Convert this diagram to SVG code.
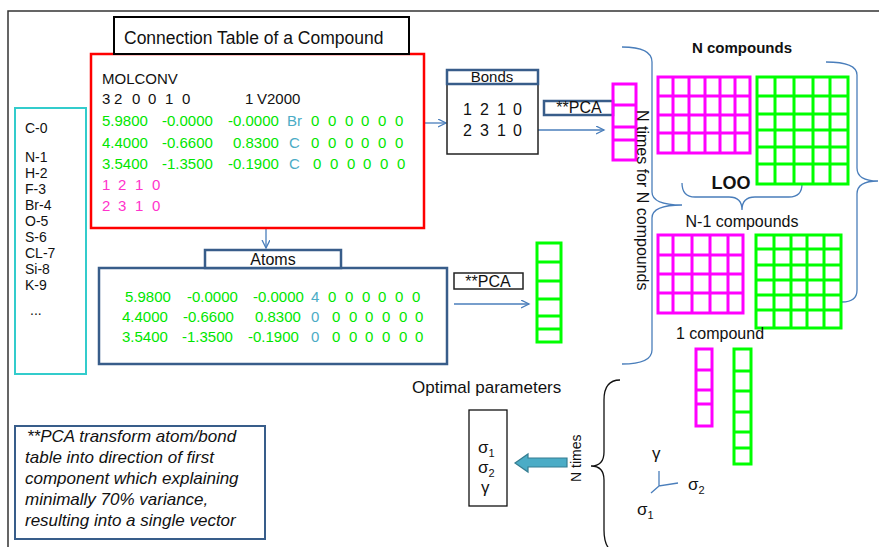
<svg xmlns="http://www.w3.org/2000/svg" width="879" height="547" viewBox="0 0 879 547">
<style>
text{font-family:"Liberation Sans",Arial,sans-serif;}
.f15{font-size:15px}
.f16{font-size:16px}
.gr{fill:#00e600}
.mg{fill:#ff33cc}
.cy{fill:#4bacc6}
.k{fill:#111}
.gm{fill:none;stroke:#ff00ff;stroke-width:3}
.gg{fill:none;stroke:#00ff00;stroke-width:3}
.db{fill:#fff;stroke:#385d8a;stroke-width:2.5}
.arr{fill:none;stroke:#4a7ebb;stroke-width:1.3}
.br{fill:none;stroke:#4a7ebb;stroke-width:1.3}
</style>
<defs>
<marker id="ah" markerWidth="10" markerHeight="10" refX="8" refY="4" orient="auto" markerUnits="userSpaceOnUse">
<path d="M0,0 L8,4 L0,8" fill="none" stroke="#4a7ebb" stroke-width="1.3"/>
</marker>
</defs>
<rect width="879" height="547" fill="#fff"/>
<path d="M8,547 L8,11 L879,11" fill="none" stroke="#333" stroke-width="1.5"/>

<g id="connectors">
<line class="arr" x1="424" y1="123" x2="446" y2="123" marker-end="url(#ah)"/>
<line class="arr" x1="538" y1="130" x2="604" y2="130" marker-end="url(#ah)"/>
<line class="arr" x1="266" y1="228" x2="266" y2="248" marker-end="url(#ah)"/>
<line class="arr" x1="454" y1="304" x2="529" y2="304" marker-end="url(#ah)"/>
<path class="br" d="M622,47 Q652,47 652,62 L652,192 Q652,205 682,205 Q652,205 652,218 L652,350 Q652,364 622,364"/>
<path class="br" d="M682,183 Q682,197 695,197 L729,197 Q742,197 742,210 Q742,197 755,197 L789,197 Q802,197 802,184"/>
<path class="br" d="M826,62 Q857,62 857,75 L857,168 Q857,181 878,181 Q857,181 857,194 L857,290 Q857,302 842,302"/>
<path d="M620,380 Q604,380 604,400 L604,452 Q604,466 591,466 Q604,466 604,480 L604,530 Q604,547 613,552" fill="none" stroke="#111" stroke-width="1.3"/>
<path d="M567,458 L528,458 L528,454 L515,463 L528,472 L528,467 L567,467 Z" fill="#4bacc6" stroke="#357d91" stroke-width="1.2"/>
</g>

<g id="connection-table">
<rect x="91" y="54" width="333" height="174" fill="#fff" stroke="#ff0000" stroke-width="2.5"/>
<rect x="114" y="17" width="295" height="37" fill="#fff" stroke="#000" stroke-width="2"/>
<text x="124" y="44" style="font-size:17.5px" class="k">Connection Table of a Compound</text>
<g class="f15">
<text x="102" y="84" class="k">MOLCONV</text>
<text x="102 114 132 148 165 182" y="104" class="k">320010</text>
<text x="245" y="104" class="k">1</text><text x="257" y="104" class="k">V2000</text>
<text x="102" y="126" class="gr">5.9800</text><text x="162" y="126" class="gr">-0.0000</text><text x="228" y="126" class="gr">-0.0000</text><text x="287" y="126" class="cy">Br</text><text x="311 328 345 361 378 395" y="126" class="gr">000000</text>
<text x="102" y="148" class="gr">4.4000</text><text x="162" y="148" class="gr">-0.6600</text><text x="233" y="148" class="gr">0.8300</text><text x="289" y="148" class="cy">C</text><text x="311 328 345 361 378 395" y="148" class="gr">000000</text>
<text x="102" y="169" class="gr">3.5400</text><text x="162" y="169" class="gr">-1.3500</text><text x="228" y="169" class="gr">-0.1900</text><text x="289" y="169" class="cy">C</text><text x="313 330 347 363 380 397" y="169" class="gr">000000</text>
<text x="102 118 135 152" y="190" class="mg">1210</text>
<text x="102 118 135 152" y="211" class="mg">2310</text>
</g>
</g>

<g id="atom-codes">
<rect x="15" y="108" width="71" height="266" fill="#fff" stroke="#33cccc" stroke-width="2"/>
<g class="k" style="font-size:14px">
<text x="25" y="133">C-0</text>
<text x="25" y="162">N-1</text>
<text x="25" y="178">H-2</text>
<text x="25" y="194">F-3</text>
<text x="25" y="210">Br-4</text>
<text x="25" y="226">O-5</text>
<text x="25" y="242">S-6</text>
<text x="25" y="258">CL-7</text>
<text x="25" y="274">Si-8</text>
<text x="25" y="290">K-9</text>
<text x="30" y="315">...</text>
</g>
</g>

<g id="bonds">
<rect x="447" y="84" width="91" height="70" fill="#fff" stroke="#222" stroke-width="1.5"/>
<rect class="db" x="447" y="70" width="91" height="14" stroke-width="2"/>
<text x="492" y="82" text-anchor="middle" class="f15 k">Bonds</text>
<text x="463 480 497 513" y="115" class="f16 k">1210</text>
<text x="463 480 497 513" y="136" class="f16 k">2310</text>
</g>

<g id="bonds-pca">
<rect class="db" x="544" y="101" width="69" height="14" stroke-width="2"/>
<text x="579" y="113" text-anchor="middle" class="f16 k">**PCA</text>
</g>

<g id="bond-vector">
<rect class="gm" x="613" y="84" width="23" height="76"/>
<path class="gm" d="M613,105 H636 M613,127 H636 M613,140 H636"/>
</g>

<g id="n-times-label">
<text transform="translate(637,110) rotate(90)" class="f16 k">N times for N compounds</text>
</g>

<g id="n-compounds">
<text x="742" y="53" text-anchor="middle" style="font-size:15px;font-weight:bold" class="k">N compounds</text>
<rect class="gm" x="658" y="77" width="92" height="76"/>
<path class="gm" d="M673,77 V153 M689,77 V153 M705,77 V153 M720,77 V153 M735,77 V153 M658,96 H750 M658,115 H750 M658,133 H750"/>
<rect class="gg" x="757" y="77" width="91" height="107"/>
<path class="gg" d="M775,77 V184 M794,77 V184 M813,77 V184 M830,77 V184 M757,96 H848 M757,114 H848 M757,130 H848 M757,147 H848 M757,164 H848"/>
</g>

<g id="loo">
<text x="731" y="189" text-anchor="middle" style="font-size:18px;font-weight:bold" class="k">LOO</text>
</g>

<g id="n-1-compounds">
<text x="742" y="227" text-anchor="middle" class="f16 k">N-1 compounds</text>
<rect class="gm" x="658" y="235" width="85" height="78"/>
<path class="gm" d="M673,235 V313 M692,235 V313 M710,235 V313 M728,235 V313 M658,255 H743 M658,274 H743 M658,293 H743"/>
<rect class="gg" x="756" y="235" width="85" height="93"/>
<path class="gg" d="M774,235 V328 M791,235 V328 M807,235 V328 M824,235 V328 M756,249 H841 M756,265 H841 M756,280 H841 M756,295 H841 M756,310 H841"/>
</g>

<g id="one-compound">
<text x="676" y="339" class="f16 k">1 compound</text>
<rect class="gm" x="696" y="349" width="16" height="77"/>
<path class="gm" d="M696,370 H712 M696,390 H712 M696,404 H712"/>
<rect class="gg" x="734" y="349" width="17" height="115"/>
<path class="gg" d="M734,371 H751 M734,391 H751 M734,412 H751 M734,432 H751 M734,448 H751"/>
</g>

<g id="atoms">
<rect x="99" y="268" width="348" height="96" fill="#fff" stroke="#385d8a" stroke-width="2.5"/>
<rect class="db" x="205" y="250" width="136" height="18"/>
<text x="273" y="265" text-anchor="middle" class="f16 k">Atoms</text>
<g class="f15">
<text x="125" y="302" class="gr">5.9800</text><text x="187" y="302" class="gr">-0.0000</text><text x="253" y="302" class="gr">-0.0000</text><text x="311" y="302" class="cy">4</text><text x="328 345 362 378 395 412" y="302" class="gr">000000</text>
<text x="122" y="322" class="gr">4.4000</text><text x="183" y="322" class="gr">-0.6600</text><text x="255" y="322" class="gr">0.8300</text><text x="311" y="322" class="cy">0</text><text x="332 349 365 382 399 415" y="322" class="gr">000000</text>
<text x="122" y="342" class="gr">3.5400</text><text x="182" y="342" class="gr">-1.3500</text><text x="248" y="342" class="gr">-0.1900</text><text x="311" y="342" class="cy">0</text><text x="332 349 365 382 399 415" y="342" class="gr">000000</text>
</g>
</g>

<g id="atoms-pca">
<rect x="454" y="273" width="69" height="16" fill="#fff" stroke="#222" stroke-width="1.5"/>
<text x="488" y="287" text-anchor="middle" class="f16 k">**PCA</text>
</g>

<g id="atom-vector">
<rect class="gg" x="537" y="243" width="24" height="99"/>
<path class="gg" d="M537,262 H561 M537,281 H561 M537,299 H561 M537,316 H561 M537,329 H561"/>
</g>

<g id="note">
<rect x="15" y="426" width="250" height="113" fill="#fff" stroke="#385d8a" stroke-width="2"/>
<g style="font-size:17px;font-style:italic" class="k">
<text x="27" y="442">**PCA  transform atom/bond</text>
<text x="25" y="463">table into direction of  first</text>
<text x="25" y="484">component which explaining</text>
<text x="25" y="505">minimally 70% variance,</text>
<text x="25" y="526">resulting into a single vector</text>
</g>
</g>

<g id="optimal-parameters">
<text x="412" y="393" style="font-size:17px" class="k">Optimal parameters</text>
<rect x="469" y="410" width="38" height="96" fill="#fff" stroke="#111" stroke-width="1.3"/>
<text x="478" y="453" style="font-size:17px" class="k">σ<tspan dy="4" style="font-size:11px">1</tspan></text>
<text x="478" y="473" style="font-size:17px" class="k">σ<tspan dy="4" style="font-size:11px">2</tspan></text>
<text x="481" y="493" style="font-size:17px" class="k">γ</text>
</g>

<g id="n-times">
<text transform="translate(581,482) rotate(-90)" style="font-size:14px" class="k">N times</text>
</g>

<g id="axes">
<text x="652" y="459" style="font-size:17px" class="k">γ</text>
<path d="M659,471 L659,486 L678,483 M659,486 L651,493" fill="none" stroke="#4a7ebb" stroke-width="1.3"/>
<text x="688" y="490" style="font-size:17px" class="k">σ<tspan dy="4" style="font-size:11px">2</tspan></text>
<text x="637" y="515" style="font-size:17px" class="k">σ<tspan dy="4" style="font-size:11px">1</tspan></text>
</g>
</svg>
